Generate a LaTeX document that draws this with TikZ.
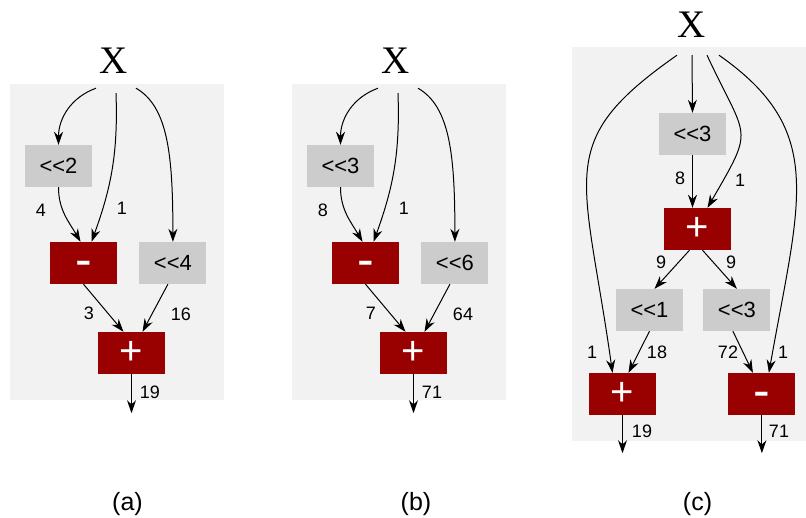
\documentclass[tikz,border=0pt]{standalone}
\usepackage{fontspec}
\setmainfont{Liberation Sans}
\newfontfamily\xfont{Liberation Serif}
\usetikzlibrary{arrows.meta, positioning}
\definecolor{panelgray}{RGB}{242, 242, 242}
\definecolor{shiftgray}{RGB}{204, 204, 204}
\definecolor{opred}{RGB}{153, 0, 0}
\tikzstyle{shiftop} = [rectangle, minimum width=67pt, minimum height=42pt, inner sep=2pt, text centered, fill=shiftgray, font=\fontsize{22}{22}\selectfont]
\tikzstyle{addop} = [rectangle, minimum width=67pt, minimum height=42pt, inner sep=0pt, text centered, fill=opred, text=white, font=\fontsize{40}{40}\selectfont]
\tikzstyle{subop} = [addop, font=\fontsize{50}{50}\selectfont, text height=27pt]
\tikzstyle{srcnode} = [inner sep=0pt, minimum width=40pt, minimum height=54pt, font=\xfont\fontsize{39}{39}\selectfont]
\tikzstyle{wlabel} = [inner sep=0pt, font=\fontsize{18}{18}\selectfont]
\tikzstyle{subcap} = [inner sep=0pt, font=\fontsize{25}{25}\selectfont]
\tikzstyle{arrow} = [line width=1pt, -{Stealth[length=13pt, width=9pt]}]

\begin{document}
\begin{tikzpicture}[x=1pt, y=1pt]
\useasboundingbox (0,0) rectangle (806,-518);

% Panels
\fill [panelgray] (10,-84) rectangle (224,-400);
\fill [panelgray] (292,-84) rectangle (506,-400);
\fill [panelgray] (572,-47) rectangle (806,-441);

% (a)
\node (xa) [srcnode] at (114,-61) {X};
\node (shla) [shiftop] at (58.5,-166) {<{}<2};
\node (suba) [subop] at (83.5,-263) {-};
\node (shra) [shiftop, right=22pt of suba] {<{}<4};
\node (adda) [addop] at (131.5,-353) {+};
\coordinate [below=39pt of adda] (outa);

\draw [arrow] ([xshift=-18pt]xa.south) to[out=200, in=90] (shla.north);
\draw [arrow] ([shift={(2pt,-5pt)}]xa.south) to[out=-88, in=70] ([xshift=8pt]suba.north);
\draw [arrow] ([xshift=22pt]xa.south) to[out=-30, in=90, out looseness=0.6, in looseness=1.4] (shra.north);
\draw [arrow] (shla.south) to[out=-90, in=120] ([xshift=-3pt]suba.north);
\draw [arrow] (suba.south) -- ([xshift=-8pt]adda.north);
\draw [arrow] ([xshift=-5pt]shra.south) -- ([xshift=11pt]adda.north);
\draw [arrow] (adda) -- (outa);

\node (wa1) [wlabel] at (41,-210) {4};
\node (wa2) [wlabel] at (122,-208) {1};
\node (wa3) [wlabel] at (89,-313) {3};
\node (wa4) [wlabel] at (181,-314) {16};
\node (wa5) [wlabel] at (150,-392) {19};

% (b)
\node (xb) [srcnode] at (396,-61) {X};
\node (shlb) [shiftop] at (340.5,-166) {<{}<3};
\node (subb) [subop] at (365.5,-263) {-};
\node (shrb) [shiftop, right=22pt of subb] {<{}<6};
\node (addb) [addop] at (413.5,-353) {+};
\coordinate [below=39pt of addb] (outb);

\draw [arrow] ([xshift=-18pt]xb.south) to[out=200, in=90] (shlb.north);
\draw [arrow] ([shift={(2pt,-5pt)}]xb.south) to[out=-88, in=70] ([xshift=8pt]subb.north);
\draw [arrow] ([xshift=22pt]xb.south) to[out=-30, in=90, out looseness=0.6, in looseness=1.4] (shrb.north);
\draw [arrow] (shlb.south) to[out=-90, in=120] ([xshift=-3pt]subb.north);
\draw [arrow] (subb.south) -- ([xshift=-8pt]addb.north);
\draw [arrow] ([xshift=-5pt]shrb.south) -- ([xshift=11pt]addb.north);
\draw [arrow] (addb) -- (outb);

\node (wb1) [wlabel] at (323,-210) {8};
\node (wb2) [wlabel] at (404,-208) {1};
\node (wb3) [wlabel] at (371,-313) {7};
\node (wb4) [wlabel] at (463,-314) {64};
\node (wb5) [wlabel] at (432,-392) {71};

% (c)
\node (xc) [srcnode, minimum height=60pt] at (692,-25) {X};
\node (shc1) [shiftop] at (692.5,-134) {<{}<3};
\node (addc1) [addop] at (697.5,-229) {+};
\node (shc2) [shiftop] at (649.5,-310) {<{}<1};
\node (shc3) [shiftop, right=20pt of shc2] {<{}<3};
\node (addc2) [addop] at (622.5,-394) {+};
\node (subc) [subop, right=72pt of addc2] {-};
\coordinate [below=38pt of addc2] (outc1);
\coordinate [below=38pt of subc] (outc2);

\draw [arrow] (xc.south) -- (shc1.north);
\draw [arrow] (shc1.south) -- (shc1.south |- addc1.north);
\draw [arrow] ([xshift=15pt]xc.south) to[out=-65, in=60, looseness=1.6] ([xshift=10pt]addc1.north);
\draw [arrow] ([xshift=-15pt]xc.south) to[out=-145, in=98, out looseness=1.2, in looseness=1.6] ([xshift=-10pt]addc2.north);
\draw [arrow] ([xshift=27pt]xc.south) to[out=-35, in=80, out looseness=1.05, in looseness=1.4] ([xshift=7pt]subc.north);
\draw [arrow] ([xshift=-8pt]addc1.south) -- ([xshift=5pt]shc2.north);
\draw [arrow] ([xshift=5pt]addc1.south) -- (shc3.north);
\draw [arrow] (shc2.south) -- ([xshift=6pt]addc2.north);
\draw [arrow] ([xshift=-4pt]shc3.south) -- ([xshift=-9pt]subc.north);
\draw [arrow] (addc2) -- (outc1);
\draw [arrow] (subc) -- (outc2);

\node (wc1) [wlabel] at (680,-178) {8};
\node (wc2) [wlabel] at (740,-180) {1};
\node (wc3) [wlabel] at (661,-262) {9};
\node (wc4) [wlabel] at (731,-262) {9};
\node (wc5) [wlabel] at (592,-352) {1};
\node (wc6) [wlabel] at (657,-352) {18};
\node (wc7) [wlabel] at (728,-352) {72};
\node (wc8) [wlabel] at (783,-352) {1};
\node (wc9) [wlabel] at (642,-431) {19};
\node (wc10) [wlabel] at (779,-431) {71};

% Captions
\node (capa) [subcap] at (127.5,-504) {(a)};
\node (capb) [subcap] at (416,-504) {(b)};
\node (capc) [subcap] at (697.5,-504) {(c)};

\end{tikzpicture}
\end{document}
